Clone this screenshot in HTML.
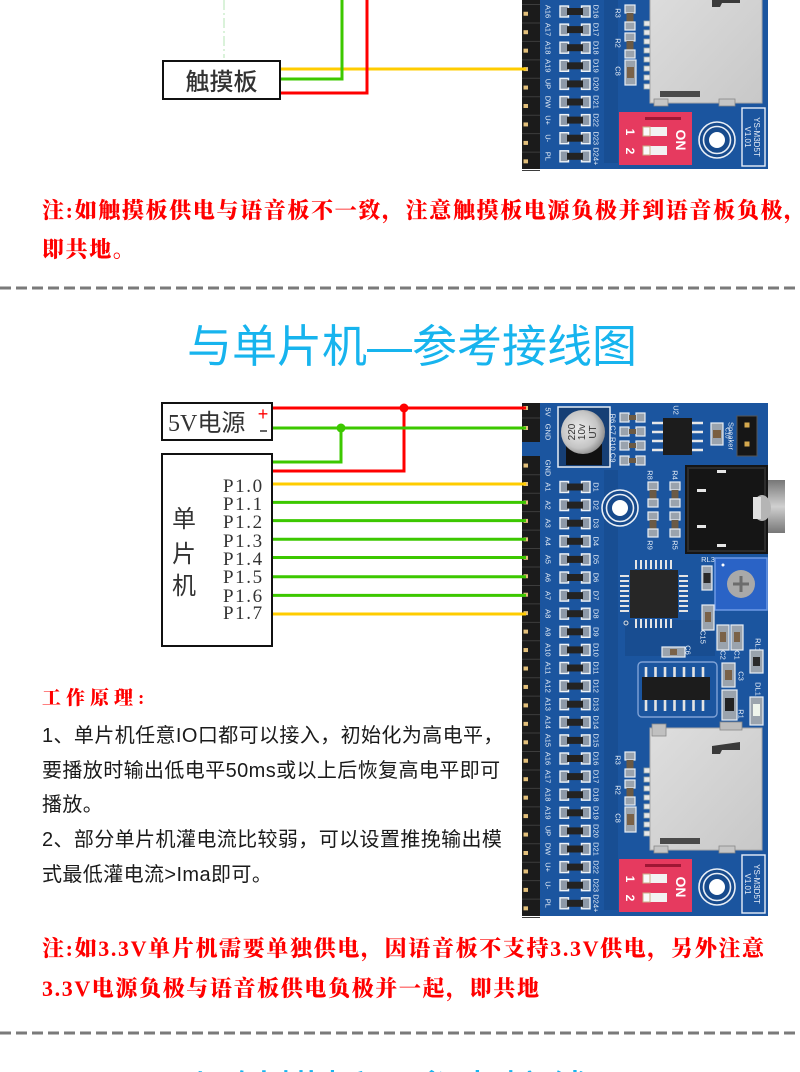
<!DOCTYPE html>
<html><head><meta charset="utf-8"><style>
html,body{margin:0;padding:0;background:#fff;}
svg{display:block;}
</style></head><body>
<svg width="800" height="1072" viewBox="0 0 800 1072" xmlns="http://www.w3.org/2000/svg">
<defs>
<radialGradient id="capg" cx="0.42" cy="0.45" r="0.6">
<stop offset="0" stop-color="#eeeeee"/><stop offset="0.7" stop-color="#c4c4c4"/><stop offset="1" stop-color="#8a8a8a"/>
</radialGradient>
<linearGradient id="jackg" x1="0" y1="0" x2="0" y2="1">
<stop offset="0" stop-color="#777"/><stop offset="0.5" stop-color="#d0d0d0"/><stop offset="1" stop-color="#777"/>
</linearGradient>
<linearGradient id="sdg" x1="0" y1="0" x2="1" y2="1">
<stop offset="0" stop-color="#dedede"/><stop offset="1" stop-color="#c8c8c8"/>
</linearGradient>
<g id="pin">
<rect x="523.5" y="-2" width="4.5" height="4" fill="#e2bf7a"/>
<line x1="522" y1="9.2" x2="540" y2="9.2" stroke="#3d3d3d" stroke-width="1"/>
</g>
<g id="led">
<rect x="560" y="-5.5" width="8.5" height="11" fill="#8d99a8" stroke="#eef3f8" stroke-width="1.4"/>
<rect x="581.5" y="-5.5" width="8.5" height="11" fill="#8d99a8" stroke="#eef3f8" stroke-width="1.4"/>
<rect x="567" y="-3.5" width="16" height="7" fill="#232323"/>
</g>
<g id="res">
<rect x="0" y="0" width="10" height="8" fill="#9aa3ad" stroke="#e8eef5" stroke-width="1.2"/>
<rect x="1.5" y="8" width="7" height="9" fill="#6b5a45"/>
<rect x="0" y="17" width="10" height="8" fill="#9aa3ad" stroke="#e8eef5" stroke-width="1.2"/>
</g>
<g id="hole">
<circle r="18" fill="#174a8c" stroke="#e8eef6" stroke-width="1.6"/>
<circle r="13.5" fill="none" stroke="#e8eef6" stroke-width="1.6"/>
<circle r="8" fill="#ffffff"/>
</g>
<g id="board">
<rect x="522" y="403" width="246" height="513" fill="#1b559f"/>
<rect x="604" y="470" width="14" height="440" fill="#184e93"/>
<rect x="625" y="620" width="90" height="36" fill="#184d91"/>
<rect x="522" y="403" width="18" height="39" fill="#1b1b1b"/>
<line x1="522" y1="418" x2="540" y2="418" stroke="#3d3d3d"/>
<rect x="523.5" y="406" width="4.5" height="4" fill="#e2bf7a"/>
<rect x="523.5" y="426" width="4.5" height="4" fill="#e2bf7a"/>
<rect x="522" y="456" width="18" height="460" fill="#1b1b1b"/>
<use href="#pin" y="465.55"/>
<use href="#pin" y="484"/><use href="#pin" y="502.45"/><use href="#pin" y="520.9"/><use href="#pin" y="539.35"/>
<use href="#pin" y="557.8"/><use href="#pin" y="576.25"/><use href="#pin" y="594.7"/><use href="#pin" y="613.15"/>
<use href="#pin" y="631.6"/><use href="#pin" y="650.05"/><use href="#pin" y="668.5"/><use href="#pin" y="686.95"/>
<use href="#pin" y="705.4"/><use href="#pin" y="723.85"/><use href="#pin" y="742.3"/><use href="#pin" y="760.75"/>
<use href="#pin" y="779.2"/><use href="#pin" y="797.65"/><use href="#pin" y="816.1"/><use href="#pin" y="834.55"/>
<use href="#pin" y="853"/><use href="#pin" y="871.45"/><use href="#pin" y="889.9"/><use href="#pin" y="908.35"/>
<use href="#led" y="487"/><use href="#led" y="505.1"/><use href="#led" y="523.2"/><use href="#led" y="541.3"/>
<use href="#led" y="559.4"/><use href="#led" y="577.5"/><use href="#led" y="595.6"/><use href="#led" y="613.7"/>
<use href="#led" y="631.8"/><use href="#led" y="649.9"/><use href="#led" y="668"/><use href="#led" y="686.1"/>
<use href="#led" y="704.2"/><use href="#led" y="722.3"/><use href="#led" y="740.4"/><use href="#led" y="758.5"/>
<use href="#led" y="776.6"/><use href="#led" y="794.7"/><use href="#led" y="812.8"/><use href="#led" y="830.9"/>
<use href="#led" y="849"/><use href="#led" y="867.1"/><use href="#led" y="885.2"/><use href="#led" y="903.3"/>
<g font-family="'Liberation Sans',sans-serif" font-size="7.5" fill="#e4ecf6" text-anchor="middle">
<text transform="translate(548,412) rotate(90)" dy="2.6">5V</text>
<text transform="translate(548,432) rotate(90)" dy="2.6">GND</text>
<text transform="translate(548,468) rotate(90)" dy="2.6">GND</text>
<text transform="translate(548,487) rotate(90)" dy="2.6">A1</text>
<text transform="translate(548,505.1) rotate(90)" dy="2.6">A2</text>
<text transform="translate(548,523.2) rotate(90)" dy="2.6">A3</text>
<text transform="translate(548,541.3) rotate(90)" dy="2.6">A4</text>
<text transform="translate(548,559.4) rotate(90)" dy="2.6">A5</text>
<text transform="translate(548,577.5) rotate(90)" dy="2.6">A6</text>
<text transform="translate(548,595.6) rotate(90)" dy="2.6">A7</text>
<text transform="translate(548,613.7) rotate(90)" dy="2.6">A8</text>
<text transform="translate(548,631.8) rotate(90)" dy="2.6">A9</text>
<text transform="translate(548,649.9) rotate(90)" dy="2.6">A10</text>
<text transform="translate(548,668) rotate(90)" dy="2.6">A11</text>
<text transform="translate(548,686.1) rotate(90)" dy="2.6">A12</text>
<text transform="translate(548,704.2) rotate(90)" dy="2.6">A13</text>
<text transform="translate(548,722.3) rotate(90)" dy="2.6">A14</text>
<text transform="translate(548,740.4) rotate(90)" dy="2.6">A15</text>
<text transform="translate(548,758.5) rotate(90)" dy="2.6">A16</text>
<text transform="translate(548,776.6) rotate(90)" dy="2.6">A17</text>
<text transform="translate(548,794.7) rotate(90)" dy="2.6">A18</text>
<text transform="translate(548,812.8) rotate(90)" dy="2.6">A19</text>
<text transform="translate(548,830.9) rotate(90)" dy="2.6">UP</text>
<text transform="translate(548,849) rotate(90)" dy="2.6">DW</text>
<text transform="translate(548,867.1) rotate(90)" dy="2.6">U+</text>
<text transform="translate(548,885.2) rotate(90)" dy="2.6">U-</text>
<text transform="translate(548,903.3) rotate(90)" dy="2.6">PL</text>
<text transform="translate(596,487) rotate(90)" dy="2.6">D1</text>
<text transform="translate(596,505.1) rotate(90)" dy="2.6">D2</text>
<text transform="translate(596,523.2) rotate(90)" dy="2.6">D3</text>
<text transform="translate(596,541.3) rotate(90)" dy="2.6">D4</text>
<text transform="translate(596,559.4) rotate(90)" dy="2.6">D5</text>
<text transform="translate(596,577.5) rotate(90)" dy="2.6">D6</text>
<text transform="translate(596,595.6) rotate(90)" dy="2.6">D7</text>
<text transform="translate(596,613.7) rotate(90)" dy="2.6">D8</text>
<text transform="translate(596,631.8) rotate(90)" dy="2.6">D9</text>
<text transform="translate(596,649.9) rotate(90)" dy="2.6">D10</text>
<text transform="translate(596,668) rotate(90)" dy="2.6">D11</text>
<text transform="translate(596,686.1) rotate(90)" dy="2.6">D12</text>
<text transform="translate(596,704.2) rotate(90)" dy="2.6">D13</text>
<text transform="translate(596,722.3) rotate(90)" dy="2.6">D14</text>
<text transform="translate(596,740.4) rotate(90)" dy="2.6">D15</text>
<text transform="translate(596,758.5) rotate(90)" dy="2.6">D16</text>
<text transform="translate(596,776.6) rotate(90)" dy="2.6">D17</text>
<text transform="translate(596,794.7) rotate(90)" dy="2.6">D18</text>
<text transform="translate(596,812.8) rotate(90)" dy="2.6">D19</text>
<text transform="translate(596,830.9) rotate(90)" dy="2.6">D20</text>
<text transform="translate(596,849) rotate(90)" dy="2.6">D21</text>
<text transform="translate(596,867.1) rotate(90)" dy="2.6">D22</text>
<text transform="translate(596,885.2) rotate(90)" dy="2.6">D23</text>
<text transform="translate(596,903.3) rotate(90)" dy="2.6">D24+</text>
<text transform="translate(613,438) rotate(90)" dy="2.6">R6 C7 R10 C9</text>
<text transform="translate(676,410) rotate(90)" dy="2.6">U2</text>
<text transform="translate(731,436) rotate(90)" dy="2.6">Speaker</text>
<text transform="translate(728,433) rotate(90)" dy="2.6" font-size="6">C10</text>
<text transform="translate(650,475) rotate(90)" dy="2.6">R8</text>
<text transform="translate(675,475) rotate(90)" dy="2.6">R4</text>
<text transform="translate(650,545) rotate(90)" dy="2.6">R9</text>
<text transform="translate(675,545) rotate(90)" dy="2.6">R5</text>
<text x="708" y="562">RL3</text>
<text transform="translate(703,637) rotate(90)" dy="2.6">C15</text>
<text transform="translate(688,650) rotate(90)" dy="2.6">C6</text>
<text transform="translate(723,655) rotate(90)" dy="2.6">C2</text>
<text transform="translate(737,655) rotate(90)" dy="2.6">C1</text>
<text transform="translate(741,676) rotate(90)" dy="2.6">C3</text>
<text transform="translate(741,714) rotate(90)" dy="2.6">R1</text>
<text transform="translate(758,645) rotate(90)" dy="2.6">RL1</text>
<text transform="translate(758,689) rotate(90)" dy="2.6">DL1</text>
<text transform="translate(618,760) rotate(90)" dy="2.6">R3</text>
<text transform="translate(618,790) rotate(90)" dy="2.6">R2</text>
<text transform="translate(618,818) rotate(90)" dy="2.6">C8</text>
</g>
<rect x="558" y="407" width="52" height="60" fill="#163f75" stroke="#e6edf5" stroke-width="1.5"/>
<rect x="566" y="444" width="36" height="21" fill="#111"/>
<circle cx="583" cy="432" r="22" fill="url(#capg)"/>
<g font-family="'Liberation Sans',sans-serif" font-size="10" fill="#333" text-anchor="middle">
<text transform="translate(572,432) rotate(-90)" dy="3">220</text>
<text transform="translate(582,432) rotate(-90)" dy="3">10v</text>
<text transform="translate(593,432) rotate(-90)" dy="3">UT</text>
</g>
<g fill="#9aa3ad" stroke="#e8eef5" stroke-width="1.2">
<rect x="620" y="413" width="9" height="9"/><rect x="636" y="413" width="9" height="9"/>
<rect x="620" y="427" width="9" height="9"/><rect x="636" y="427" width="9" height="9"/>
<rect x="620" y="441" width="9" height="9"/><rect x="636" y="441" width="9" height="9"/>
<rect x="620" y="456" width="9" height="9"/><rect x="636" y="456" width="9" height="9"/>
</g>
<g fill="#6b5a45"><rect x="629" y="415" width="7" height="5"/><rect x="629" y="429" width="7" height="5"/><rect x="629" y="443" width="7" height="5"/><rect x="629" y="458" width="7" height="5"/></g>
<g stroke="#e8e8e8" stroke-width="2.5">
<line x1="652" y1="423" x2="663" y2="423"/><line x1="652" y1="432" x2="663" y2="432"/><line x1="652" y1="441" x2="663" y2="441"/><line x1="652" y1="450" x2="663" y2="450"/>
<line x1="692" y1="423" x2="703" y2="423"/><line x1="692" y1="432" x2="703" y2="432"/><line x1="692" y1="441" x2="703" y2="441"/><line x1="692" y1="450" x2="703" y2="450"/>
</g>
<rect x="663" y="418" width="29" height="37" fill="#1c1c1c"/>
<rect x="711" y="423" width="12" height="22" fill="#9aa3ad" stroke="#e8eef5" stroke-width="1.2"/>
<rect x="713" y="430" width="8" height="8" fill="#7a5f40"/>
<rect x="737" y="416" width="20" height="40" fill="#161616" stroke="#555"/>
<rect x="744.5" y="422.5" width="5" height="5" fill="#d6a94e"/>
<rect x="744.5" y="441.5" width="5" height="5" fill="#d6a94e"/>
<use href="#hole" x="620" y="508"/>
<use href="#res" x="648" y="482"/><use href="#res" x="648" y="512"/>
<use href="#res" x="670" y="482"/><use href="#res" x="670" y="512"/>
<rect x="767" y="480" width="18" height="53" fill="url(#jackg)"/>
<rect x="685" y="465" width="83" height="89" fill="#151515"/>
<rect x="688" y="468" width="77" height="83" fill="none" stroke="#2c2c2c" stroke-width="2"/>
<ellipse cx="762" cy="508" rx="9" ry="13" fill="#b5b5b5"/>
<rect x="753" y="497" width="8" height="22" fill="#e0e0e0"/>
<g fill="#e6e6e6"><rect x="697" y="489" width="9" height="3"/><rect x="697" y="525" width="9" height="3"/><rect x="717" y="470" width="9" height="3"/><rect x="717" y="544" width="9" height="3"/></g>
<g stroke="#e4e4e4" stroke-width="2">
<line x1="636" y1="560" x2="636" y2="569"/><line x1="641" y1="560" x2="641" y2="569"/><line x1="646" y1="560" x2="646" y2="569"/><line x1="651" y1="560" x2="651" y2="569"/><line x1="656" y1="560" x2="656" y2="569"/><line x1="661" y1="560" x2="661" y2="569"/><line x1="666" y1="560" x2="666" y2="569"/><line x1="671" y1="560" x2="671" y2="569"/>
<line x1="636" y1="619" x2="636" y2="628"/><line x1="641" y1="619" x2="641" y2="628"/><line x1="646" y1="619" x2="646" y2="628"/><line x1="651" y1="619" x2="651" y2="628"/><line x1="656" y1="619" x2="656" y2="628"/><line x1="661" y1="619" x2="661" y2="628"/><line x1="666" y1="619" x2="666" y2="628"/><line x1="671" y1="619" x2="671" y2="628"/>
<line x1="620" y1="576" x2="629" y2="576"/><line x1="620" y1="581" x2="629" y2="581"/><line x1="620" y1="586" x2="629" y2="586"/><line x1="620" y1="591" x2="629" y2="591"/><line x1="620" y1="596" x2="629" y2="596"/><line x1="620" y1="601" x2="629" y2="601"/><line x1="620" y1="606" x2="629" y2="606"/><line x1="620" y1="611" x2="629" y2="611"/>
<line x1="679" y1="576" x2="688" y2="576"/><line x1="679" y1="581" x2="688" y2="581"/><line x1="679" y1="586" x2="688" y2="586"/><line x1="679" y1="591" x2="688" y2="591"/><line x1="679" y1="596" x2="688" y2="596"/><line x1="679" y1="601" x2="688" y2="601"/><line x1="679" y1="606" x2="688" y2="606"/><line x1="679" y1="611" x2="688" y2="611"/>
</g>
<rect x="630" y="570" width="48" height="48" fill="#262626"/>
<circle cx="626" cy="623" r="2" fill="none" stroke="#ddd"/>
<rect x="702" y="566" width="10" height="24" fill="#9aa3ad" stroke="#e8eef5" stroke-width="1.2"/>
<rect x="703.5" y="573" width="7" height="10" fill="#2a2a2a"/>
<rect x="715" y="558" width="52" height="52" fill="#2a63c6" stroke="#6d9ae6" stroke-width="1.5"/>
<circle cx="741" cy="584" r="14" fill="#a9a9a9"/>
<line x1="733" y1="584" x2="749" y2="584" stroke="#6c6c6c" stroke-width="3"/>
<line x1="741" y1="576" x2="741" y2="592" stroke="#6c6c6c" stroke-width="3"/>
<circle cx="723" cy="565" r="1.5" fill="#fff"/>
<g fill="#9aa3ad" stroke="#e8eef5" stroke-width="1.2">
<rect x="702" y="605" width="12" height="25"/>
<rect x="717" y="625" width="12" height="25"/>
<rect x="731" y="625" width="12" height="25"/>
<rect x="662" y="647" width="23" height="10"/>
<rect x="722" y="663" width="13" height="24"/>
<rect x="722" y="690" width="15" height="30"/>
<rect x="750" y="650" width="13" height="23"/>
<rect x="750" y="697" width="13" height="28"/>
</g>
<g fill="#7a6248"><rect x="705" y="612" width="6" height="10"/><rect x="720" y="632" width="6" height="10"/><rect x="734" y="632" width="6" height="10"/><rect x="670" y="649" width="7" height="6"/><rect x="725" y="670" width="7" height="10"/></g>
<rect x="725" y="698" width="9" height="13" fill="#222"/>
<rect x="753" y="657" width="7" height="9" fill="#2a2a2a"/>
<rect x="753" y="704" width="7" height="12" fill="#eef4ec"/>
<rect x="638" y="662" width="79" height="55" rx="4" fill="none" stroke="#7fa2d6" stroke-width="1.4"/>
<g stroke="#e4e4e4" stroke-width="2.6">
<line x1="646" y1="667" x2="646" y2="677"/><line x1="655.5" y1="667" x2="655.5" y2="677"/><line x1="665" y1="667" x2="665" y2="677"/><line x1="674.5" y1="667" x2="674.5" y2="677"/><line x1="684" y1="667" x2="684" y2="677"/><line x1="693.5" y1="667" x2="693.5" y2="677"/><line x1="703" y1="667" x2="703" y2="677"/>
<line x1="646" y1="700" x2="646" y2="711"/><line x1="655.5" y1="700" x2="655.5" y2="711"/><line x1="665" y1="700" x2="665" y2="711"/><line x1="674.5" y1="700" x2="674.5" y2="711"/><line x1="684" y1="700" x2="684" y2="711"/><line x1="693.5" y1="700" x2="693.5" y2="711"/><line x1="703" y1="700" x2="703" y2="711"/>
</g>
<rect x="642" y="677" width="68" height="23" fill="#1c1c1c"/>
<use href="#res" x="625" y="752"/><use href="#res" x="625" y="780"/>
<rect x="625" y="807" width="11" height="25" fill="#9aa3ad" stroke="#e8eef5" stroke-width="1.2"/>
<rect x="627" y="814" width="7" height="11" fill="#7a6248"/>
<g fill="#e8e8e8" stroke="#9aa" stroke-width="0.8">
<rect x="644" y="768" width="8" height="5"/><rect x="644" y="777" width="8" height="5"/><rect x="644" y="786" width="8" height="5"/><rect x="644" y="795" width="8" height="5"/>
<rect x="644" y="804" width="8" height="5"/><rect x="644" y="813" width="8" height="5"/><rect x="644" y="822" width="8" height="5"/><rect x="644" y="831" width="8" height="5"/>
</g>
<rect x="650" y="728" width="112" height="122" fill="url(#sdg)" stroke="#a8a8a8" stroke-width="1"/>
<rect x="652" y="724" width="14" height="12" fill="#c0c0c0" stroke="#888" stroke-width="0.8"/>
<rect x="720" y="722" width="22" height="8" fill="#bdbdbd" stroke="#888" stroke-width="0.8"/>
<path d="M712 746 L740 742 L740 750 L722 750 L720 754 L712 754 Z" fill="#3a3a3a"/>
<rect x="660" y="838" width="40" height="6" fill="#4a4a4a"/>
<rect x="654" y="846" width="14" height="7" fill="#c5c5c5" stroke="#888" stroke-width="0.8"/>
<rect x="719" y="846" width="16" height="7" fill="#c5c5c5" stroke="#888" stroke-width="0.8"/>
<rect x="619" y="859" width="73" height="53" fill="#e63a5f"/>
<rect x="645" y="864" width="36" height="3" fill="#9e1634"/>
<rect x="643" y="874" width="24" height="9" fill="#f2f2f2"/>
<rect x="643" y="893" width="24" height="9" fill="#f2f2f2"/>
<rect x="643" y="874" width="7" height="9" fill="#fafafa" stroke="#c9b08a" stroke-width="1"/>
<rect x="643" y="893" width="7" height="9" fill="#fafafa" stroke="#c9b08a" stroke-width="1"/>
<g font-family="'Liberation Sans',sans-serif" fill="#ffffff" font-weight="bold" text-anchor="middle">
<text transform="translate(630,879) rotate(90)" dy="4" font-size="12">1</text>
<text transform="translate(630,898) rotate(90)" dy="4" font-size="12">2</text>
<text transform="translate(681,887) rotate(90)" dy="5" font-size="14">ON</text>
</g>
<use href="#hole" x="717" y="887"/>
<rect x="742" y="855" width="23" height="58" fill="none" stroke="#e8eef8" stroke-width="1.4"/>
<g font-family="'Liberation Sans',sans-serif" font-size="8" fill="#e8eef8" text-anchor="middle">
<text transform="translate(757,884) rotate(90)" dy="3">YS-M3D5T</text>
<text transform="translate(748,884) rotate(90)" dy="3">V1.01</text>
</g>
</g>
</defs>

<use href="#board" transform="translate(0,-747)"/>
<use href="#board"/>

<line x1="224" y1="0" x2="224" y2="58" stroke="#b6e4b6" stroke-width="1" stroke-dasharray="10 3 2 3"/>
<line x1="281" y1="69" x2="526" y2="69" stroke="#ffcc00" stroke-width="3"/>
<polyline points="281,79 342,79 342,0" fill="none" stroke="#3cc800" stroke-width="3"/>
<polyline points="281,93 367,93 367,0" fill="none" stroke="#ff0000" stroke-width="3"/>
<rect x="163" y="61" width="117" height="38" fill="#fff" stroke="#111" stroke-width="2"/>
<text x="221.5" y="90" text-anchor="middle" font-size="24" font-weight="500" fill="#333" font-family="'Liberation Sans','Noto Sans CJK SC',sans-serif">触摸板</text>

<g font-family="'Liberation Serif','Noto Serif CJK SC',serif" font-weight="900" font-size="22" fill="#ff0000">
<text x="42" y="218" textLength="764" lengthAdjust="spacing">注:如触摸板供电与语音板不一致，注意触摸板电源负极并到语音板负极，</text>
<text x="42" y="257" letter-spacing="1.6">即共地。</text>
</g>

<line x1="0" y1="288" x2="800" y2="288" stroke="#7a7a7a" stroke-width="3" stroke-dasharray="11 5"/>

<text x="412" y="362" text-anchor="middle" font-size="45" fill="#17b4ee" font-family="'Liberation Sans','Noto Sans CJK SC',sans-serif">与单片机—参考接线图</text>

<line x1="273" y1="408" x2="526" y2="408" stroke="#ff0000" stroke-width="3"/>
<polyline points="273,471 404,471 404,408" fill="none" stroke="#ff0000" stroke-width="3"/>
<circle cx="404" cy="408" r="4.5" fill="#ff0000"/>
<line x1="273" y1="428" x2="526" y2="428" stroke="#3cc800" stroke-width="3"/>
<polyline points="273,462 341,462 341,428" fill="none" stroke="#3cc800" stroke-width="3"/>
<circle cx="341" cy="428" r="4.5" fill="#3cc800"/>
<line x1="273" y1="484" x2="526" y2="484" stroke="#ffcc00" stroke-width="3"/>
<line x1="273" y1="502.4" x2="526" y2="502.4" stroke="#3cc800" stroke-width="3"/>
<line x1="273" y1="520.6" x2="526" y2="520.6" stroke="#3cc800" stroke-width="3"/>
<line x1="273" y1="539.2" x2="526" y2="539.2" stroke="#3cc800" stroke-width="3"/>
<line x1="273" y1="557.5" x2="526" y2="557.5" stroke="#3cc800" stroke-width="3"/>
<line x1="273" y1="576.8" x2="526" y2="576.8" stroke="#3cc800" stroke-width="3"/>
<line x1="273" y1="595.4" x2="526" y2="595.4" stroke="#3cc800" stroke-width="3"/>
<line x1="273" y1="614" x2="526" y2="614" stroke="#ffcc00" stroke-width="3"/>

<rect x="162" y="403" width="110" height="37" fill="#fff" stroke="#111" stroke-width="2"/>
<text x="168" y="431" font-size="24" fill="#333" font-family="'Liberation Serif','Noto Sans CJK SC',sans-serif">5V电源</text>
<text x="263" y="420" text-anchor="middle" font-size="18" fill="#ff0000" font-family="'Liberation Sans',sans-serif">+</text>
<line x1="260" y1="431" x2="267" y2="431" stroke="#333" stroke-width="1.5"/>

<rect x="162" y="454" width="110" height="192" fill="#fff" stroke="#111" stroke-width="2"/>
<g font-size="24" fill="#333" text-anchor="middle" font-family="'Liberation Sans','Noto Sans CJK SC',sans-serif">
<text x="184" y="527">单</text>
<text x="184" y="562">片</text>
<text x="184" y="594">机</text>
</g>
<g font-size="19" fill="#333" letter-spacing="1.6" font-family="'Liberation Serif',serif">
<text x="223" y="492">P1.0</text>
<text x="223" y="510">P1.1</text>
<text x="223" y="528">P1.2</text>
<text x="223" y="547">P1.3</text>
<text x="223" y="565">P1.4</text>
<text x="223" y="583">P1.5</text>
<text x="223" y="602">P1.6</text>
<text x="223" y="619">P1.7</text>
</g>

<text x="42" y="704" font-size="19" font-weight="900" letter-spacing="5" fill="#ff0000" font-family="'Liberation Serif','Noto Serif CJK SC',serif">工作原理:</text>
<g font-size="20" fill="#1a1a1a" letter-spacing="0.4" font-family="'Liberation Sans','Noto Sans CJK SC',sans-serif">
<text x="42" y="742">1、单片机任意IO口都可以接入，初始化为高电平，</text>
<text x="42" y="777">要播放时输出低电平50ms或以上后恢复高电平即可</text>
<text x="42" y="811">播放。</text>
<text x="42" y="846">2、部分单片机灌电流比较弱，可以设置推挽输出模</text>
<text x="42" y="881">式最低灌电流&gt;Ima即可。</text>
</g>

<g font-family="'Liberation Serif','Noto Serif CJK SC',serif" font-weight="900" font-size="22" fill="#ff0000">
<text x="42" y="956" textLength="722" lengthAdjust="spacing">注:如3.3V单片机需要单独供电，因语音板不支持3.3V供电，另外注意</text>
<text x="42" y="996" textLength="497" lengthAdjust="spacing">3.3V电源负极与语音板供电负极并一起，即共地</text>
</g>

<line x1="0" y1="1033" x2="800" y2="1033" stroke="#7a7a7a" stroke-width="3" stroke-dasharray="11 5"/>

<text x="412" y="1108" text-anchor="middle" font-size="45" fill="#17b4ee" font-family="'Liberation Sans','Noto Sans CJK SC',sans-serif">与触摸板—参考接线图</text>
</svg>
</body></html>
